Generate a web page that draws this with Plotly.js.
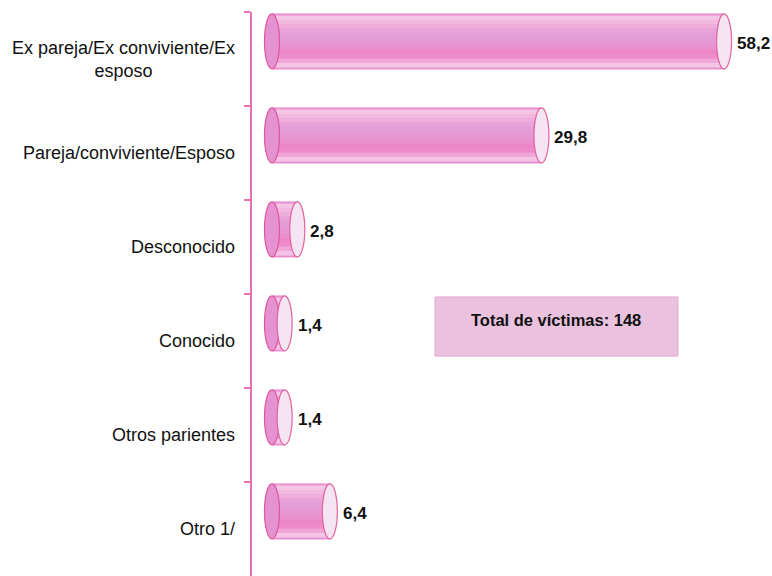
<!DOCTYPE html>
<html>
<head>
<meta charset="utf-8">
<script src="https://cdn.plot.ly/plotly-3.0.1.min.js"></script>
<style>html,body{margin:0;padding:0;background:#fff;}#chart{width:772px;height:576px;}</style>
</head>
<body>
<div id="chart"></div>
<script>
// ---- data ----
const categories = ['Ex pareja/Ex conviviente/Ex esposo', 'Pareja/conviviente/Esposo', 'Desconocido', 'Conocido', 'Otros parientes', 'Otro 1/'];
const tickLabels = ['Ex pareja/Ex conviviente/Ex<br>esposo', 'Pareja/conviviente/Esposo', 'Desconocido', 'Conocido', 'Otros parientes', 'Otro 1/'];
const values = [58.2, 29.8, 2.8, 1.4, 1.4, 6.4];
const valueLabels = ['58,2', '29,8', '2,8', '1,4', '1,4', '6,4'];
const totalText = 'Total de víctimas: 148';
const AXIS_MAX = 50; // original axis maximum: longer bars are truncated here

// ---- style ----
const FONT = '"Liberation Sans", Arial, sans-serif';
const BAR_OFF = -0.479, BAR_W = 0.585;
const shown = values.map(v => Math.min(v, AXIS_MAX));

// vertical shading profile of the cylinder body (top -> bottom)
const shade = ['#f3c6e6', '#f2b8e0', '#eeaedc', '#e8a4d8', '#e49ed6', '#e49bd5',
               '#e696d2', '#ea8ecc', '#ed86c6', '#ee8cc9', '#f0a6d6', '#f3c4e5'];

function stripe(f0, f1, color, line) {
  return {
    type: 'bar', orientation: 'h', y: categories, x: shown,
    offset: BAR_OFF + BAR_W * f0, width: BAR_W * (f1 - f0),
    marker: {color: color, line: line || {width: 0}},
    hoverinfo: 'skip', showlegend: false
  };
}
const traces = [stripe(0, 1, '#e69ad6', {color: '#ee84c6', width: 1})];
shade.forEach((c, k) => {
  const n = shade.length;
  traces.push(stripe(0.03 + 0.94 * k / n, 0.03 + 0.94 * (k + 1) / n + 0.004, c));
});

const shapes = [];
const annotations = [];
categories.forEach((c, i) => {
  const y0 = i + BAR_OFF, y1 = i + BAR_OFF + BAR_W;
  // left cap
  shapes.push({type: 'circle', xref: 'x', yref: 'y', xsizemode: 'pixel', xanchor: 0,
    x0: -7.5, x1: 7.5, y0: y0, y1: y1,
    fillcolor: '#e592d1', line: {color: '#e0559f', width: 1.2}, layer: 'above'});
  // right cap
  shapes.push({type: 'circle', xref: 'x', yref: 'y', xsizemode: 'pixel', xanchor: shown[i],
    x0: -7.5, x1: 7.5, y0: y0, y1: y1,
    fillcolor: '#f5e4f1', line: {color: '#e2629f', width: 1.2}, layer: 'above'});
  // value label
  annotations.push({xref: 'x', yref: 'y', x: shown[i], y: (y0 + y1) / 2, xshift: 11, yshift: -2,
    xanchor: 'left', yanchor: 'middle', showarrow: false, text: '<b>' + valueLabels[i] + '</b>',
    font: {family: FONT, size: 17, color: '#111'}});
  // category label
  annotations.push({xref: 'paper', yref: 'y', x: 0, y: i, xshift: -15, xanchor: 'right', yanchor: 'middle',
    align: 'center', showarrow: false, text: tickLabels[i],
    font: {family: FONT, size: 18, color: '#111'}});
});

// total box
shapes.push({type: 'rect', xref: 'paper', yref: 'paper', x0: 0.352, x1: 0.819, y0: 0.390, y1: 0.4947,
  fillcolor: '#eac2de', line: {color: '#e3a2cc', width: 1}, layer: 'above'});
annotations.push({xref: 'paper', yref: 'paper', x: 0.585, y: 0.454, xanchor: 'center', yanchor: 'middle',
  showarrow: false, text: '<b>' + totalText + '</b>', font: {family: FONT, size: 16.5, color: '#111'}});

const layout = {
  width: 772, height: 576,
  margin: {l: 252, r: 0, t: 12, b: 0},
  paper_bgcolor: '#fff', plot_bgcolor: '#fff',
  barmode: 'overlay',
  showlegend: false,
  xaxis: {range: [-2.21, 55.3], visible: false, fixedrange: true},
  yaxis: {type: 'category', categoryorder: 'array', categoryarray: categories,
    range: [5.5, -0.5], showticklabels: false, showgrid: false, zeroline: false,
    showline: true, linecolor: '#e96fb5', linewidth: 1.6,
    ticks: 'outside', tickson: 'boundaries', ticklen: 6, tickcolor: '#e96fb5', tickwidth: 1.6,
    fixedrange: true},
  shapes: shapes,
  annotations: annotations,
  font: {family: FONT}
};

Plotly.newPlot('chart', traces, layout, {displayModeBar: false, staticPlot: true});
</script>
</body>
</html>
